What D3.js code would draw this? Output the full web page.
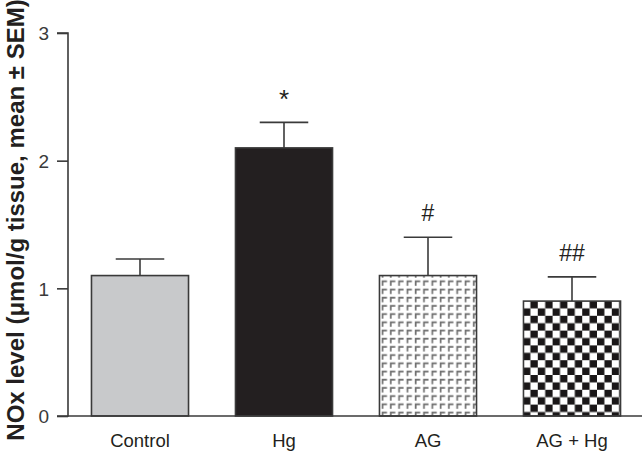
<!DOCTYPE html>
<html>
<head>
<meta charset="utf-8">
<script src="https://cdn.jsdelivr.net/npm/d3@7"></script>
<style>
  body { margin: 0; background: #fff; }
  text { font-family: "Liberation Sans", Arial, sans-serif; }
</style>
</head>
<body>
<svg id="chart" width="642" height="454"></svg>
<script>
var groups = ["Control", "Hg", "AG", "AG + Hg"];
var means = [1.1, 2.1, 1.1, 0.9];
var sems = [0.13, 0.2, 0.3, 0.19];
var marks = ["", "*", "#", "##"];
var fills = ["#c8c9cb", "#231f20", "url(#pat-ag)", "url(#pat-check)"];
var yTicks = [0, 1, 2, 3];

var svg = d3.select("#chart");

// patterns
var defs = svg.append("defs");
var pAg = defs.append("pattern").attr("id", "pat-ag")
    .attr("patternUnits", "userSpaceOnUse")
    .attr("width", 8.3).attr("height", 8.2).attr("x", 380).attr("y", 0);
pAg.append("rect").attr("width", 8.3).attr("height", 8.2).attr("fill", "#fff");
pAg.append("path").attr("d", "M2.5,7 V2.5 H7").attr("fill", "none")
    .attr("stroke", "#707070").attr("stroke-width", 1.7);

var pCh = defs.append("pattern").attr("id", "pat-check")
    .attr("patternUnits", "userSpaceOnUse")
    .attr("width", 14.8).attr("height", 14.8).attr("x", 523).attr("y", 301);
pCh.append("rect").attr("width", 14.8).attr("height", 14.8).attr("fill", "#fff");
pCh.append("rect").attr("x", 7.4).attr("y", 0).attr("width", 7.4).attr("height", 7.4).attr("fill", "#1a1718");
pCh.append("rect").attr("x", 0).attr("y", 7.4).attr("width", 7.4).attr("height", 7.4).attr("fill", "#1a1718");

var x = d3.scaleBand().domain(groups).range([68, 644])
    .paddingInner(0.326).paddingOuter(0.163);
var y = d3.scaleLinear().domain([0, 3]).range([416, 33]);

// bars
svg.selectAll(".bar").data(groups).enter().append("rect")
    .attr("class", "bar")
    .attr("x", function(d) { return x(d); })
    .attr("y", function(d, i) { return y(means[i]); })
    .attr("width", x.bandwidth())
    .attr("height", function(d, i) { return y(0) - y(means[i]); })
    .attr("fill", function(d, i) { return fills[i]; })
    .attr("stroke", "#3a3a3a").attr("stroke-width", 1.6);

// error bars
var cap = x.bandwidth() / 2;
groups.forEach(function(d, i) {
    var cx = x(d) + x.bandwidth() / 2;
    svg.append("line").attr("x1", cx).attr("x2", cx)
        .attr("y1", y(means[i])).attr("y2", y(means[i] + sems[i]))
        .attr("stroke", "#3a3a3a").attr("stroke-width", 1.6);
    svg.append("line").attr("x1", cx - cap / 2).attr("x2", cx + cap / 2)
        .attr("y1", y(means[i] + sems[i])).attr("y2", y(means[i] + sems[i]))
        .attr("stroke", "#3a3a3a").attr("stroke-width", 1.6);
    if (marks[i]) {
        svg.append("text").attr("x", cx)
            .attr("y", y(means[i] + sems[i]) - (marks[i] == "*" ? 14 : 16))
            .attr("text-anchor", "middle")
            .style("font-size", marks[i] == "*" ? "26px" : "23px")
            .attr("fill", "#231f20")
            .text(marks[i]);
    }
});

// y axis
var yAxis = d3.axisLeft(y).tickValues(yTicks).tickSize(11).tickPadding(8)
    .tickFormat(d3.format("d"));
var gy = svg.append("g").attr("transform", "translate(68,0)").call(yAxis);
gy.select(".domain").attr("stroke", "#3a3a3a").attr("stroke-width", 1.6)
    .attr("d", "M-11,33H0V416H-11");
gy.selectAll(".tick line").attr("stroke", "#3a3a3a").attr("stroke-width", 1.6);
gy.selectAll(".tick text").style("font-size", "19px").attr("fill", "#3a3a3a").attr("dy", "0.36em");

// x axis line
svg.append("line").attr("x1", 68).attr("x2", 642).attr("y1", y(0)).attr("y2", y(0))
    .attr("stroke", "#3a3a3a").attr("stroke-width", 1.6);

// x labels
svg.selectAll(".xlab").data(groups).enter().append("text")
    .attr("class", "xlab")
    .attr("x", function(d) { return x(d) + x.bandwidth() / 2; })
    .attr("y", 447)
    .attr("text-anchor", "middle")
    .style("font-size", "18.5px").attr("fill", "#231f20")
    .text(function(d) { return d; });

// y title
svg.append("text")
    .attr("transform", "translate(24,220) rotate(-90)")
    .attr("text-anchor", "middle")
    .style("font-size", "24px").style("font-weight", "bold").attr("fill", "#231f20")
    .text("NOx level (\u03bcmol/g tissue, mean \u00b1 SEM)");
</script>
</body>
</html>
